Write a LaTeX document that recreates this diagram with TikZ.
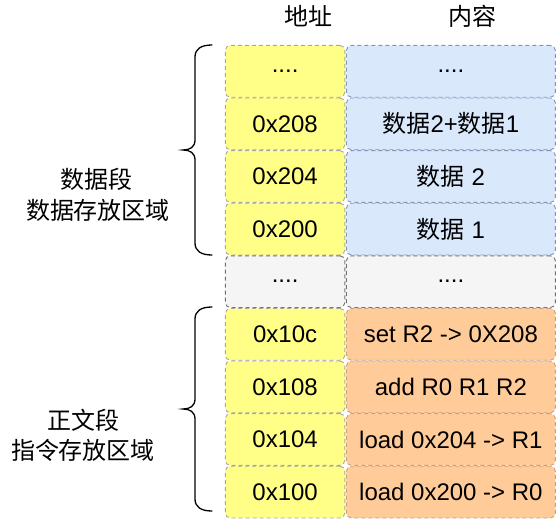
\documentclass[tikz,border=0pt]{standalone}
\usepackage{fontspec}
\setmainfont{Liberation Sans}
\newfontfamily\cjk{Noto Sans CJK SC}
\definecolor{yfill}{HTML}{FFFF88}
\definecolor{ystroke}{HTML}{A8A8A0}
\definecolor{bfill}{HTML}{DAE8FC}
\definecolor{bstroke}{HTML}{8094B8}
\definecolor{gfill}{HTML}{F5F5F5}
\definecolor{gstroke}{HTML}{707070}
\definecolor{ofill}{HTML}{FFCC99}
\definecolor{ostroke}{HTML}{C8A080}
\begin{document}
\begin{tikzpicture}[x=1pt,y=-1pt,
  txt/.style={font=\fontsize{24}{28}\selectfont, text=black, inner sep=0pt},
  cell/.style={txt, rounded corners=5pt, dash pattern=on 4pt off 3pt, line width=0.9pt, minimum height=51.8pt},
  ycell/.style={cell, fill=yfill, draw=ystroke, minimum width=119.5pt},
  bcell/.style={cell, fill=bfill, draw=bstroke, minimum width=209pt},
  gcell/.style={cell, fill=gfill, draw=gstroke},
  ocell/.style={cell, fill=ofill, draw=ostroke, minimum width=209pt},
  brace/.style={draw=black, line width=1.3pt, line cap=round}
]
\useasboundingbox (0,0) rectangle (557,519);

% headers
\node[txt] (h1) at (308,16) {\cjk 地址};
\node[txt] (h2) at (472.5,16) {\cjk 内容};

% rows
\node[ycell] (a1) at (285.1,71.3) {....};
\node[bcell] (c1) at (450.9,71.3) {....};
\node[ycell] (a2) at (285.1,123.9) {0x208};
\node[bcell] (c2) at (450.9,123.9) {{\cjk 数据}2+{\cjk 数据}1};
\node[ycell] (a3) at (285.1,176.5) {0x204};
\node[bcell] (c3) at (450.9,176.5) {{\cjk 数据} 2};
\node[ycell] (a4) at (285.1,229.1) {0x200};
\node[bcell] (c4) at (450.9,229.1) {{\cjk 数据} 1};
\node[gcell, minimum width=119.5pt] (a5) at (285.1,281.7) {....};
\node[gcell, minimum width=209pt] (c5) at (450.9,281.7) {....};
\node[ycell] (a6) at (285.1,334.3) {0x10c};
\node[ocell] (c6) at (450.9,334.3) {set R2 -> 0X208};
\node[ycell] (a7) at (285.1,386.9) {0x108};
\node[ocell] (c7) at (450.9,386.9) {add R0 R1 R2};
\node[ycell] (a8) at (285.1,439.5) {0x104};
\node[ocell] (c8) at (450.9,439.5) {load 0x204 -> R1};
\node[ycell] (a9) at (285.1,492.1) {0x100};
\node[ocell] (c9) at (450.9,492.1) {load 0x200 -> R0};

% braces
\draw[brace] (212,45) .. controls (201,45) and (195,49) .. (195,57) -- (195,140)
  .. controls (195,147) and (190,150) .. (183,150)
  .. controls (190,150) and (195,153) .. (195,160) -- (195,243)
  .. controls (195,251) and (201,255) .. (212,255);
\draw[brace] (212,307) .. controls (201,307) and (195,311) .. (195,319) -- (195,399)
  .. controls (195,406) and (190,409) .. (183,409)
  .. controls (190,409) and (195,412) .. (195,419) -- (195,499)
  .. controls (195,507) and (201,511) .. (212,511);

% labels
\node[txt] (l1) at (96,179) {\cjk 数据段};
\node[txt] (l2) at (98,210) {\cjk 数据存放区域};
\node[txt] (l3) at (83,420) {\cjk 正文段};
\node[txt] (l4) at (83,450) {\cjk 指令存放区域};
\end{tikzpicture}
\end{document}
